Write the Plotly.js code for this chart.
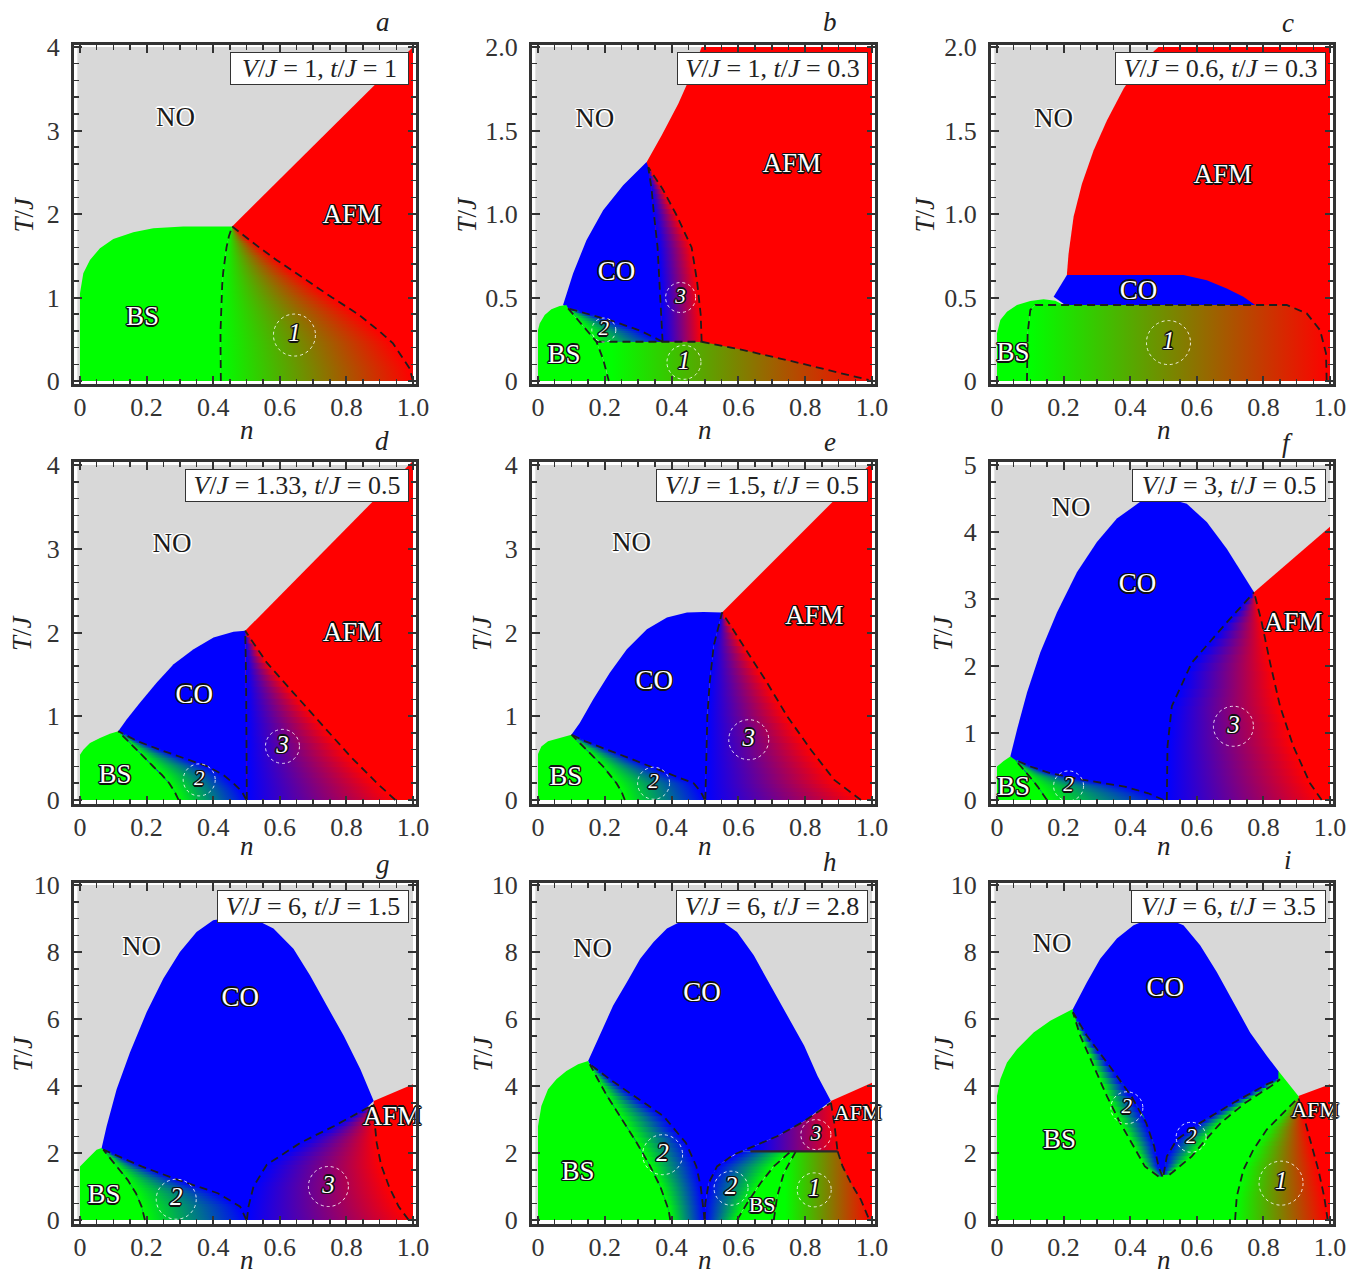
<!DOCTYPE html>
<html><head><meta charset="utf-8">
<script src="https://cdn.plot.ly/plotly-3.0.1.min.js"></script>
<style>html,body{margin:0;padding:0;background:#fff}#chart{width:1360px;height:1277px}</style>
</head><body><div id="chart"></div>
<script>
// ---------------- tick labels ----------------
const N_TICKS=[0,0.2,0.4,0.6,0.8,1.0], N_TEXT=['0','0.2','0.4','0.6','0.8','1.0'];
const T4=[0,1,2,3,4], T4_TEXT=['0','1','2','3','4'];
const T2=[0,0.5,1,1.5,2], T2_TEXT=['0','0.5','1.0','1.5','2.0'];
const T5=[0,1,2,3,4,5], T5_TEXT=['0','1','2','3','4','5'];
const T10=[0,2,4,6,8,10], T10_TEXT=['0','2','4','6','8','10'];

// ---------------- panel a : V/J=1, t/J=1 ----------------
const aAFM_n=[0.457,1.0,1.0,0.42], aAFM_T=[1.85,4.0,0,0];
const aBS_n=[0,0,0.01,0.03,0.06,0.10,0.16,0.22,0.31,0.40,0.457,0.447,0.44,0.435,0.43,0.425,0.422,0.422,0.423];
const aBS_T=[0,1.05,1.29,1.45,1.59,1.70,1.78,1.83,1.85,1.855,1.85,1.73,1.6,1.45,1.3,1.0,0.6,0.3,0];
const a1_T=[0,0.15,0.3,0.45,0.6,0.8,1.0,1.15,1.3,1.45,1.6,1.73,1.85];
const a1_L=[0.423,0.422,0.422,0.422,0.422,0.423,0.425,0.427,0.43,0.435,0.44,0.447,0.457];
const a1_R=[1.0,0.99,0.965,0.94,0.898,0.835,0.757,0.70,0.643,0.59,0.538,0.495,0.457];

// ---------------- panel b : V/J=1, t/J=0.3 ----------------
const bAFM_n=[0.325,0.37,0.42,0.46,0.49,1.0,1.0,0.33], bAFM_T=[1.31,1.47,1.66,1.84,2.0,2.0,0,0];
const bCO_n=[0.075,0.105,0.145,0.195,0.255,0.325,0.33,0.34,0.347,0.358,0.364,0.369,0.373,0.175,0.09];
const bCO_T=[0.455,0.644,0.843,1.023,1.172,1.312,1.28,1.15,1.0,0.8,0.6,0.4,0.235,0.235,0.435];
const bBS_n=[0,0,0.005,0.02,0.04,0.065,0.085,0.09,0.121,0.147,0.175,0.195,0.21,0.212];
const bBS_T=[0,0.305,0.345,0.395,0.429,0.449,0.455,0.435,0.36,0.3,0.235,0.13,0.026,0];
const b1_n=[0.175,0.49,0.615,0.765,0.865,0.99,0.99,0.212,0.21,0.195], b1_T=[0.235,0.235,0.185,0.116,0.066,0.006,0,0,0.026,0.13];
const b2_T=[0.235,0.3,0.36,0.435], b2_L=[0.175,0.147,0.121,0.09], b2_R=[0.373,0.308,0.222,0.09];
const b3_T=[0.235,0.4,0.6,0.8,1.0,1.15,1.28], b3_L=[0.373,0.369,0.364,0.358,0.347,0.34,0.33], b3_R=[0.49,0.487,0.476,0.46,0.413,0.373,0.33];
const bDbs_n=[0.09,0.121,0.147,0.175,0.195,0.21,0.212], bDbs_T=[0.435,0.36,0.3,0.235,0.13,0.026,0];
const bDh_n=[0.175,0.49], bDh_T=[0.235,0.235];
const bDafm_n=[0.49,0.615,0.765,0.865,0.99], bDafm_T=[0.235,0.185,0.116,0.066,0.006];

// ---------------- panel c : V/J=0.6, t/J=0.3 ----------------
const cAFM_n=[0.21,0.215,0.23,0.255,0.29,0.33,0.38,0.43,0.485,1.0,1.0,0.21], cAFM_T=[0.64,0.764,0.983,1.18,1.38,1.56,1.75,1.9,2.0,2.0,0,0];
const cCO_n=[0.17,0.21,0.56,0.63,0.69,0.74,0.775,0.205], cCO_T=[0.504,0.634,0.634,0.604,0.554,0.504,0.455,0.455];
const c1_n=[0.09,0.092,0.1,0.115,0.87,0.93,0.97,0.988,0.99], c1_T=[0,0.285,0.425,0.455,0.455,0.405,0.305,0.166,0];
const cBS_n=[0,0,0.01,0.03,0.06,0.10,0.14,0.175,0.2,0.115,0.1,0.092,0.09], cBS_T=[0,0.285,0.365,0.415,0.455,0.479,0.489,0.481,0.455,0.455,0.425,0.285,0];

// ---------------- panel d : V/J=1.33, t/J=0.5 ----------------
const dAFM_n=[0.496,1.0,1.0,0.496], dAFM_T=[2.02,4.05,0,0];
const dCO_n=[0.115,0.14,0.18,0.23,0.281,0.341,0.401,0.461,0.496,0.498,0.499,0.501,0.296], dCO_T=[0.82,0.96,1.16,1.40,1.62,1.80,1.94,2.01,2.02,1.5,1.0,0,0];
const dBS_n=[0,0,0.01,0.03,0.06,0.09,0.115,0.145,0.17,0.195,0.22,0.246,0.268,0.284,0.296], dBS_T=[0,0.54,0.6,0.68,0.74,0.79,0.82,0.7,0.6,0.5,0.4,0.3,0.2,0.1,0];
const d2_T=[0,0.1,0.2,0.3,0.4,0.5,0.6,0.7,0.82], d2_L=[0.296,0.284,0.268,0.246,0.22,0.195,0.17,0.145,0.115], d2_R=[0.50,0.486,0.461,0.43,0.383,0.311,0.24,0.174,0.115];
const d3_T=[0,0.2,0.52,0.92,1.28,1.64,2.02], d3_L=[0.501,0.501,0.5,0.499,0.499,0.498,0.496], d3_R=[0.947,0.892,0.812,0.721,0.641,0.561,0.496];

// ---------------- panel e : V/J=1.5, t/J=0.5 ----------------
const eAFM_n=[0.551,1.0,1.0,0.55], eAFM_T=[2.24,4.03,0,0];
const eCO_n=[0.1,0.125,0.165,0.215,0.266,0.326,0.386,0.446,0.496,0.551,0.526,0.514,0.507,0.504,0.501,0.26], eCO_T=[0.78,0.92,1.2,1.52,1.8,2.04,2.18,2.24,2.245,2.24,1.84,1.4,1.0,0.6,0,0];
const eBS_n=[0,0,0.01,0.03,0.065,0.1,0.117,0.145,0.17,0.195,0.215,0.235,0.25,0.26], eBS_T=[0,0.55,0.64,0.7,0.74,0.78,0.7,0.6,0.5,0.4,0.3,0.2,0.1,0];
const e2_T=[0,0.1,0.2,0.3,0.4,0.5,0.6,0.7,0.78], e2_L=[0.26,0.25,0.235,0.215,0.195,0.17,0.145,0.117,0.1], e2_R=[0.5,0.487,0.466,0.399,0.336,0.273,0.21,0.142,0.1];
const e3_T=[0,0.24,0.6,1.0,1.4,1.84,2.24], e3_L=[0.501,0.502,0.504,0.507,0.514,0.526,0.551], e3_R=[0.967,0.887,0.817,0.746,0.686,0.616,0.551];

// ---------------- panel f : V/J=3, t/J=0.5 ----------------
const fAFM_n=[0.772,1.0,1.0,0.77], fAFM_T=[3.1,4.08,0,0];
const fCO_n=[0.04,0.06,0.09,0.13,0.18,0.24,0.30,0.36,0.43,0.50,0.57,0.63,0.69,0.74,0.772,0.51,0.15], fCO_T=[0.65,1.05,1.6,2.2,2.8,3.4,3.85,4.2,4.45,4.52,4.42,4.15,3.75,3.35,3.1,0,0];
const fBS_n=[0,0,0.02,0.04,0.054,0.072,0.09,0.106,0.122,0.137,0.15], fBS_T=[0,0.5,0.58,0.65,0.6,0.5,0.4,0.3,0.2,0.1,0];
const f2_T=[0,0.1,0.2,0.3,0.4,0.5,0.6], f2_L=[0.15,0.137,0.122,0.106,0.09,0.072,0.054], f2_R=[0.5,0.454,0.383,0.26,0.16,0.1,0.054];
const f3_T=[0,0.25,0.8,1.4,2.05,2.65,3.1], f3_L=[0.51,0.51,0.512,0.525,0.585,0.69,0.772], f3_R=[0.975,0.94,0.89,0.85,0.82,0.795,0.772];

// ---------------- panel g : V/J=6, t/J=1.5 ----------------
const gAFM_n=[0.882,1.0,1.0,0.88], gAFM_T=[3.55,4.05,0,0];
const gCO_n=[0.065,0.08,0.11,0.15,0.2,0.25,0.3,0.35,0.4,0.461,0.521,0.581,0.641,0.691,0.741,0.792,0.842,0.882,0.5,0.195], gCO_T=[2.15,2.8,3.9,5.0,6.2,7.2,8.0,8.6,8.95,9.05,9.0,8.7,8.1,7.3,6.4,5.5,4.5,3.55,0,0];
const gBS_n=[0,0,0.025,0.05,0.065,0.07,0.09,0.11,0.143,0.168,0.185,0.195], gBS_T=[0,1.6,1.85,2.1,2.15,2.1,1.85,1.6,1.2,0.8,0.4,0];
const g2_T=[0,0.4,0.8,1.2,1.6,1.85,2.1], g2_L=[0.195,0.185,0.168,0.143,0.11,0.09,0.07], g2_R=[0.5,0.481,0.414,0.294,0.185,0.126,0.07];
const g3_T=[0,0.4,1.0,1.65,2.3,2.8,3.45], g3_L=[0.501,0.506,0.521,0.561,0.661,0.762,0.882], g3_R=[0.987,0.957,0.928,0.904,0.891,0.886,0.882];

// ---------------- panel h : V/J=6, t/J=2.8 ----------------
const hAFM_n=[0.877,1.0,1.0,0.9,0.88], hAFM_T=[3.55,4.1,0,0,2.05];
const hCO_n=[0.15,0.185,0.225,0.266,0.306,0.346,0.386,0.426,0.486,0.546,0.596,0.646,0.696,0.746,0.797,0.837,0.877,0.797,0.716,0.646,0.586,0.536,0.511,0.501,0.499,0.396];
const hCO_T=[4.75,5.5,6.4,7.1,7.8,8.3,8.7,8.9,8.98,8.95,8.6,7.9,7.0,6.1,5.2,4.3,3.55,2.95,2.5,2.2,1.95,1.6,1.1,0.5,0,0];
const hBS_n=[0,0,0.01,0.03,0.055,0.085,0.12,0.15,0.155,0.179,0.207,0.245,0.296,0.336,0.366,0.391,0.396];
const hBS_T=[0,2.8,3.4,3.9,4.2,4.45,4.65,4.75,4.65,4.2,3.7,3.1,2.3,1.6,1.0,0.3,0];
const hBSs_n=[0.596,0.626,0.666,0.706,0.757,0.772,0.757,0.736,0.716,0.706], hBSs_T=[0,0.5,1.1,1.6,2.05,2.05,1.8,1.4,0.7,0];
const h1_n=[0.706,0.716,0.736,0.757,0.772,0.897,0.912,0.937,0.967,0.992], h1_T=[0,0.7,1.4,1.8,2.05,2.05,1.6,1.1,0.6,0];
const h3_n=[0.61,0.897,0.887,0.877,0.797,0.716,0.646], h3_T=[2.05,2.05,2.9,3.5,2.95,2.5,2.2];
const h2a_T=[0,0.3,1.0,1.6,2.3,3.1,3.7,4.2,4.65], h2a_L=[0.396,0.391,0.366,0.336,0.296,0.245,0.207,0.179,0.155], h2a_R=[0.499,0.496,0.487,0.474,0.443,0.376,0.286,0.215,0.155];
const h2b_T=[0,0.5,1.1,1.6,2.05], h2b_L=[0.499,0.501,0.511,0.536,0.61], h2b_R=[0.596,0.626,0.666,0.706,0.757];
const hDco_n=[0.499,0.501,0.511,0.536,0.586,0.646,0.716,0.797,0.877], hDco_T=[0,0.5,1.1,1.6,1.95,2.2,2.5,2.95,3.5];
const hDbs1_n=[0.706,0.716,0.736,0.757,0.772], hDbs1_T=[0,0.7,1.4,1.8,2.05];
const hD3_n=[0.877,0.887,0.897], hD3_T=[3.5,2.9,2.05];
const hD1_n=[0.897,0.912,0.937,0.967,0.992], hD1_T=[2.05,1.6,1.1,0.6,0];
const hH_n=[0.636,0.897], hH_T=[2.05,2.05];

// ---------------- panel i : V/J=6, t/J=3.5 ----------------
const iAFM_n=[0.905,1.0,1.0,0.95], iAFM_T=[3.7,4.05,0,0];
const iBS_n=[0,0,0.01,0.03,0.06,0.11,0.16,0.21,0.228,0.845,0.905,0.918,0.933,0.949,0.965,0.9825,0.993];
const iBS_T=[0,3.7,4.2,4.7,5.1,5.6,5.95,6.2,6.3,4.45,3.7,3.2,2.7,2.1,1.5,0.7,0];
const iCO_n=[0.228,0.27,0.31,0.36,0.41,0.46,0.51,0.56,0.61,0.66,0.71,0.76,0.81,0.845,0.845,0.81,0.71,0.61,0.54,0.51,0.5,0.485,0.47,0.44,0.39,0.33,0.27,0.228];
const iCO_T=[6.3,7.1,7.8,8.4,8.8,9.0,9.0,8.8,8.2,7.4,6.5,5.6,4.9,4.45,4.2,4.05,3.5,2.9,2.4,1.9,1.35,1.6,2.3,3.1,3.9,4.7,5.5,6.2];
const i2a_T=[1.3,1.6,2.2,2.9,3.7,4.6,5.5,6.2], i2a_L=[0.485,0.444,0.41,0.37,0.33,0.29,0.25,0.228], i2a_R=[0.497,0.485,0.472,0.448,0.403,0.338,0.27,0.228];
const i2b_T=[1.35,1.9,2.4,2.9,3.5,4.05,4.2], i2b_L=[0.5,0.51,0.54,0.61,0.71,0.81,0.845], i2b_R=[0.518,0.585,0.627,0.672,0.746,0.831,0.85];
const i1_T=[0,0.7,1.5,2.1,2.7,3.2,3.65], i1_L=[0.715,0.72,0.74,0.77,0.81,0.86,0.905], i1_R=[0.993,0.9825,0.965,0.949,0.933,0.918,0.905];

// ---------------- styles ----------------
const GREY='#d8d8d8', GREEN='#00ff00', BLUE='#0000ff', RED='#ff0000';
const FONT='Liberation Serif';
const W=1360, H=1277;
const COLS=[[74,416],[532,875],[991,1333]];
const ROWS=[[45,384],[462,804],[883,1224]];
const DARK_SH='1px 1px 0 #111, -1px -1px 0 #111, 1px -1px 0 #111, -1px 1px 0 #111, 0 1.5px 0 #111, 0 -1.5px 0 #111, 1.5px 0 0 #111, -1.5px 0 0 #111';
const LIGHT_SH='1px 1px 0 #fff, -1px -1px 0 #fff, 1px -1px 0 #fff, -1px 1px 0 #fff, 0 1.5px 0 #fff, 0 -1.5px 0 #fff, 1.5px 0 0 #fff, -1.5px 0 0 #fff';

const band=(T,L,R,c0,c1)=>({T,L,R,c0,c1});
const panels=[
 {col:0,row:0,tmax:4,yr:[-0.036,4.024],yt:T4,ytt:T4_TEXT,ymin:0.2,V:'1',t:'1',bw:179,letter:'a',lx:383,ly:22,tjx:23,
  solids:[[aAFM_n,aAFM_T,RED],[aBS_n,aBS_T,GREEN]], grads:[],
  bands:[band(a1_T,a1_L,a1_R,GREEN,RED)],
  dashes:[[a1_L,a1_T],[a1_R,a1_T]], solidLines:[],
  labels:[['NO',0.287,3.14,0],['AFM',0.816,1.97,1],['BS',0.188,0.75,1]],
  circles:[['1',0.644,0.55,21]]},
 {col:1,row:0,tmax:2,yr:[-0.018,2.012],yt:T2,ytt:T2_TEXT,ymin:0.1,V:'1',t:'0.3',bw:191,letter:'b',lx:830,ly:22,tjx:466,
  solids:[[bAFM_n,bAFM_T,RED],[bCO_n,bCO_T,BLUE],[bBS_n,bBS_T,GREEN]],
  grads:[[b1_n,b1_T,GREEN,RED,0.22,1.0]],
  bands:[band(b2_T,b2_L,b2_R,GREEN,BLUE),band(b3_T,b3_L,b3_R,BLUE,RED)],
  dashes:[[bDbs_n,bDbs_T],[b2_R,b2_T],[b3_L,b3_T],[b3_R,b3_T],[bDh_n,bDh_T],[bDafm_n,bDafm_T]], solidLines:[],
  labels:[['NO',0.17,1.56,0],['AFM',0.76,1.29,1],['CO',0.235,0.648,1],['BS',0.078,0.15,1]],
  circles:[['3',0.427,0.5,15],['2',0.197,0.305,12],['1',0.437,0.112,17]]},
 {col:2,row:0,tmax:2,yr:[-0.018,2.012],yt:T2,ytt:T2_TEXT,ymin:0.1,V:'0.6',t:'0.3',bw:211,letter:'c',lx:1288,ly:23,tjx:924,
  solids:[[cAFM_n,cAFM_T,RED],[cCO_n,cCO_T,BLUE],[cBS_n,cBS_T,GREEN]],
  grads:[[c1_n,c1_T,GREEN,RED,0.1,1.0]], bands:[],
  dashes:[[c1_n,c1_T]], solidLines:[],
  labels:[['NO',0.17,1.56,0],['AFM',0.678,1.226,1],['CO',0.425,0.534,1],['BS',0.048,0.16,1]],
  circles:[['1',0.515,0.23,22]]},
 {col:0,row:1,tmax:4,yr:[-0.048,4.036],yt:T4,ytt:T4_TEXT,ymin:0.2,V:'1.33',t:'0.5',bw:224,letter:'d',lx:382,ly:441,tjx:22,
  solids:[[dAFM_n,dAFM_T,RED],[dCO_n,dCO_T,BLUE],[dBS_n,dBS_T,GREEN]], grads:[],
  bands:[band(d2_T,d2_L,d2_R,GREEN,BLUE),band(d3_T,d3_L,d3_R,BLUE,RED)],
  dashes:[[d2_L,d2_T],[d2_R,d2_T],[d3_L,d3_T],[d3_R,d3_T]], solidLines:[],
  labels:[['NO',0.276,3.04,0],['AFM',0.817,1.98,1],['CO',0.343,1.24,1],['BS',0.105,0.28,1]],
  circles:[['3',0.608,0.64,17],['2',0.358,0.24,16]]},
 {col:1,row:1,tmax:4,yr:[-0.048,4.036],yt:T4,ytt:T4_TEXT,ymin:0.2,V:'1.5',t:'0.5',bw:212,letter:'e',lx:830,ly:442,tjx:482,
  solids:[[eAFM_n,eAFM_T,RED],[eCO_n,eCO_T,BLUE],[eBS_n,eBS_T,GREEN]], grads:[],
  bands:[band(e2_T,e2_L,e2_R,GREEN,BLUE),band(e3_T,e3_L,e3_R,BLUE,RED)],
  dashes:[[e2_L,e2_T],[e2_R,e2_T],[e3_L,e3_T],[e3_R,e3_T]], solidLines:[],
  labels:[['NO',0.28,3.05,0],['AFM',0.827,2.18,1],['CO',0.348,1.4,1],['BS',0.083,0.26,1]],
  circles:[['3',0.631,0.72,20],['2',0.346,0.2,16]]},
 {col:2,row:1,tmax:5,yr:[-0.06,5.045],yt:T5,ytt:T5_TEXT,ymin:0.25,V:'3',t:'0.5',bw:194,letter:'f',lx:1287,ly:443,tjx:943,
  solids:[[fAFM_n,fAFM_T,RED],[fCO_n,fCO_T,BLUE],[fBS_n,fBS_T,GREEN]], grads:[],
  bands:[band(f2_T,f2_L,f2_R,GREEN,BLUE),band(f3_T,f3_L,f3_R,BLUE,RED)],
  dashes:[[f2_L,f2_T],[f2_R,f2_T],[f3_L,f3_T],[f3_R,f3_T]], solidLines:[],
  labels:[['NO',0.222,4.335,0],['CO',0.422,3.2,1],['AFM',0.89,2.625,1],['BS',0.05,0.175,1]],
  circles:[['3',0.71,1.1,20],['2',0.215,0.21,15]]},
 {col:0,row:2,tmax:10,yr:[-0.119,10.06],yt:T10,ytt:T10_TEXT,ymin:0.5,V:'6',t:'1.5',bw:192,letter:'g',lx:383,ly:864,tjx:22,
  solids:[[gAFM_n,gAFM_T,RED],[gCO_n,gCO_T,BLUE],[gBS_n,gBS_T,GREEN]], grads:[],
  bands:[band(g2_T,g2_L,g2_R,GREEN,BLUE),band(g3_T,g3_L,g3_R,BLUE,RED)],
  dashes:[[g2_L,g2_T],[g2_R,g2_T],[g3_L,g3_T],[g3_R,g3_T]], solidLines:[],
  labels:[['NO',0.185,8.1,0],['CO',0.481,6.6,1],['AFM',0.937,3.05,1],['BS',0.072,0.7,1]],
  circles:[['3',0.746,1.0,20],['2',0.289,0.62,20]]},
 {col:1,row:2,tmax:10,yr:[-0.119,10.06],yt:T10,ytt:T10_TEXT,ymin:0.5,V:'6',t:'2.8',bw:192,letter:'h',lx:830,ly:862,tjx:482,
  solids:[[hAFM_n,hAFM_T,RED],[hCO_n,hCO_T,BLUE],[hBS_n,hBS_T,GREEN],[hBSs_n,hBSs_T,GREEN]],
  grads:[[h1_n,h1_T,GREEN,RED,0.74,1.0],[h3_n,h3_T,BLUE,RED,0.66,0.9]],
  bands:[band(h2a_T,h2a_L,h2a_R,GREEN,BLUE),band(h2b_T,h2b_L,h2b_R,BLUE,GREEN)],
  dashes:[[h2a_L,h2a_T],[h2a_R,h2a_T],[hDco_n,hDco_T],[h2b_R,h2b_T],[hDbs1_n,hDbs1_T],[hD3_n,hD3_T],[hD1_n,hD1_T]],
  solidLines:[[hH_n,hH_T]],
  labels:[['NO',0.163,8.05,0],['CO',0.491,6.75,1],['AFM',0.957,3.15,2],['BS',0.12,1.4,1],['BS',0.671,0.4,2]],
  circles:[['2',0.373,1.95,20],['2',0.578,0.95,17],['3',0.832,2.55,15],['1',0.827,0.9,17]]},
 {col:2,row:2,tmax:10,yr:[-0.119,10.06],yt:T10,ytt:T10_TEXT,ymin:0.5,V:'6',t:'3.5',bw:195,letter:'i',lx:1288,ly:860,tjx:943,
  solids:[[iAFM_n,iAFM_T,RED],[iBS_n,iBS_T,GREEN],[iCO_n,iCO_T,BLUE]], grads:[],
  bands:[band(i2a_T,i2a_L,i2a_R,GREEN,BLUE),band(i2b_T,i2b_L,i2b_R,BLUE,GREEN),band(i1_T,i1_L,i1_R,GREEN,RED)],
  dashes:[[i2a_L,i2a_T],[i2a_R,i2a_T],[i2b_L,i2b_T],[i2b_R,i2b_T],[i1_L,i1_T],[i1_R,i1_T]], solidLines:[],
  labels:[['NO',0.165,8.2,0],['CO',0.505,6.88,1],['BS',0.188,2.35,1],['AFM',0.955,3.23,2]],
  circles:[['2',0.39,3.35,16],['2',0.583,2.47,15],['1',0.853,1.1,22]]}
];

const data=[], shapes=[], annotations=[];
const layout={width:W,height:H,margin:{l:0,r:0,t:0,b:0},paper_bgcolor:'#fff',plot_bgcolor:'#fff',
  showlegend:false,hovermode:false,font:{family:FONT,color:'#222'}};

function poly(x,y,color,xa,ya){
  return {type:'scatter',mode:'lines',x,y,xaxis:xa,yaxis:ya,fill:'toself',fillcolor:color,line:{width:0},hoverinfo:'skip',showlegend:false};
}
function gpoly(x,y,c0,c1,s,e,xa,ya){
  const t=poly(x,y,c0,xa,ya);
  t.fillgradient={type:'horizontal',colorscale:[[0,c0],[1,c1]],start:s,stop:e};
  return t;
}
// Fill a band (between its left and right boundary polylines) with thin strips; each strip
// carries a horizontal gradient spanning the band at that height.
const SUB=5;
function bandTraces(b,xa,ya,eps){
  const out=[]; const N=b.T.length;
  const lerp=(a,c,f)=>a+(c-a)*f;
  for(let k=0;k<N-1;k++){
    for(let j=0;j<SUB;j++){
      const f0=j/SUB, f1=(j+1)/SUB;
      const last=(k===N-2&&j===SUB-1);
      const T0=lerp(b.T[k],b.T[k+1],f0), T1=lerp(b.T[k],b.T[k+1],f1)+(last?0:eps);
      const L0=lerp(b.L[k],b.L[k+1],f0), L1=lerp(b.L[k],b.L[k+1],f1);
      const R0=lerp(b.R[k],b.R[k+1],f0), R1=lerp(b.R[k],b.R[k+1],f1);
      let s=(L0+L1)/2, e=(R0+R1)/2;
      if(Math.abs(e-s)<0.004){const m=(s+e)/2; s=m-0.002; e=m+0.002;}
      out.push(gpoly([L0,R0,R1,L1],[T0,T0,T1,T1],b.c0,b.c1,s,e,xa,ya));
    }
  }
  return out;
}
function dline(x,y,xa,ya,solid){
  return {type:'scatter',mode:'lines',x,y,xaxis:xa,yaxis:ya,hoverinfo:'skip',showlegend:false,
    line:solid?{color:'#2a2a2a',width:2.2}:{color:'#1e1e1e',width:1.8,dash:'8px,5px'}};
}
const textTraces=[];
function label(xa,ya,x,y,text,size,fill,shadow){
  textTraces.push({type:'scatter',mode:'text',x:[x],y:[y],text:[text],textposition:'middle center',cliponaxis:false,
    xaxis:xa,yaxis:ya,hoverinfo:'skip',showlegend:false,
    textfont:{family:FONT,size,color:fill,shadow}});
}

panels.forEach((p,i)=>{
  const k=i+1, sfx=k>1?String(k):'';
  const xa='x'+sfx, ya='y'+sfx;
  const c=COLS[p.col], r=ROWS[p.row];
  layout['xaxis'+sfx]={domain:[c[0]/W,c[1]/W],anchor:ya,range:[-0.018,1.009],
    tickmode:'array',tickvals:N_TICKS,ticktext:N_TEXT,ticks:'inside',ticklen:8,tickwidth:2,tickcolor:'#333',
    minor:{tickmode:'linear',tick0:0,dtick:0.05,ticks:'inside',ticklen:5,tickwidth:1.5,tickcolor:'#333',showgrid:false},
    showline:true,linewidth:3,linecolor:'#333',mirror:'allticks',showgrid:false,zeroline:false,
    tickfont:{family:FONT,size:26,color:'#333'},ticklabelstandoff:-2,fixedrange:true};
  layout['yaxis'+sfx]={domain:[1-r[1]/H,1-r[0]/H],anchor:xa,range:p.yr,
    tickmode:'array',tickvals:p.yt,ticktext:p.ytt,ticks:'inside',ticklen:8,tickwidth:2,tickcolor:'#333',
    minor:{tickmode:'linear',tick0:0,dtick:p.ymin,ticks:'inside',ticklen:5,tickwidth:1.5,tickcolor:'#333',showgrid:false},
    showline:true,linewidth:3,linecolor:'#333',mirror:'allticks',showgrid:false,zeroline:false,
    tickfont:{family:FONT,size:26,color:'#333'},ticklabelstandoff:6,fixedrange:true};

  data.push(poly([-0.008,1.0,1.0,-0.008],[0,0,p.tmax,p.tmax],GREY,xa,ya));
  p.solids.forEach(s=>data.push(poly(s[0],s[1],s[2],xa,ya)));
  p.grads.forEach(g=>data.push(gpoly(g[0],g[1],g[2],g[3],g[4],g[5],xa,ya)));
  p.bands.forEach(b=>bandTraces(b,xa,ya,0.003*p.tmax).forEach(t=>data.push(t)));
  p.dashes.forEach(d=>data.push(dline(d[0],d[1],xa,ya,false)));
  p.solidLines.forEach(d=>data.push(dline(d[0],d[1],xa,ya,true)));

  p.labels.forEach(l=>{
    const dark=l[3]===0, small=l[3]===2;
    label(xa,ya,l[1],l[2],l[0],small?22:27,dark?'#1a1a1a':'#ffffff',dark?LIGHT_SH:DARK_SH);
  });
  p.circles.forEach(cc=>{
    shapes.push({type:'circle',xref:xa,yref:ya,xsizemode:'pixel',ysizemode:'pixel',xanchor:cc[1],yanchor:cc[2],
      x0:-cc[3],x1:cc[3],y0:-cc[3],y1:cc[3],line:{color:'rgba(255,255,255,0.85)',width:1,dash:'dot'},layer:'above'});
    label(xa,ya,cc[1],cc[2],'<i>'+cc[0]+'</i>',cc[3]>=17?25:21,'#ffffff',DARK_SH);
  });
  annotations.push({xref:xa+' domain',yref:ya+' domain',x:1-7/(c[1]-c[0]),y:1-7/(r[1]-r[0]),xanchor:'right',yanchor:'top',
    text:'<i>V</i>/<i>J</i> = '+p.V+', <i>t</i>/<i>J</i> = '+p.t,showarrow:false,bgcolor:'#fff',bordercolor:'#333',borderwidth:1,borderpad:0,
    width:p.bw-2,height:31,align:'center',font:{family:FONT,size:26,color:'#222'}});
  annotations.push({xref:'paper',yref:'paper',x:p.lx/W,y:1-p.ly/H,text:'<i>'+p.letter+'</i>',showarrow:false,
    xanchor:'center',yanchor:'middle',font:{family:FONT,size:27,color:'#222'}});
  if(p.row<2){
    const ny=[430,846][p.row];
    annotations.push({xref:xa,yref:'paper',x:0.5,y:1-ny/H,text:'<i>n</i>',showarrow:false,xanchor:'center',yanchor:'middle',
      font:{family:FONT,size:27,color:'#222'}});
  } else {
    annotations.push({xref:xa,yref:'paper',x:0.5,y:0,text:'<i>n</i>',showarrow:false,xanchor:'center',yanchor:'bottom',
      font:{family:FONT,size:27,color:'#222'}});
  }
  annotations.push({xref:'paper',yref:'paper',x:p.tjx/W,y:1-((r[0]+r[1])/2)/H,text:'<i>T</i>/<i>J</i>',showarrow:false,textangle:-90,
    xanchor:'center',yanchor:'middle',font:{family:FONT,size:27,color:'#222'}});
});
textTraces.forEach(t=>data.push(t));
layout.shapes=shapes; layout.annotations=annotations;
Plotly.newPlot('chart',data,layout,{staticPlot:true,displayModeBar:false});
</script></body></html>
